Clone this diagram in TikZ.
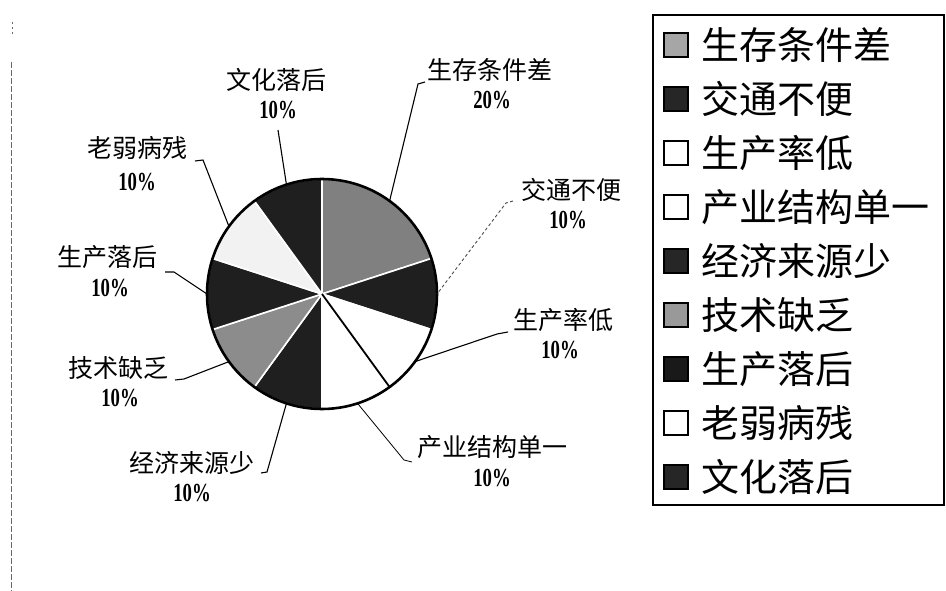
\documentclass[tikz,border=0pt]{standalone}
\usepackage{fontspec}
\usepackage{graphicx}
\newfontfamily\cjk{Noto Sans CJK SC}
\newfontfamily\pctfont{Liberation Serif}
\newcommand{\pcttext}[1]{\scalebox{0.72}[1]{#1}}
\usetikzlibrary{calc}
\definecolor{darkslice}{gray}{0.12}
\definecolor{grayslice}{gray}{0.5}
\definecolor{grayslicetwo}{gray}{0.55}
\definecolor{paleslice}{gray}{0.95}
\tikzset{
  lbl/.style={inner sep=0pt, font=\cjk\fontsize{25}{30}\selectfont},
  pct/.style={inner sep=0pt, font=\pctfont\bfseries\fontsize{26}{30}\selectfont},
  leg/.style={inner sep=0pt, anchor=west, font=\cjk\fontsize{38}{44}\selectfont},
  legbox/.style={draw=black, line width=1.6pt, minimum size=24pt, inner sep=0pt},
  leader/.style={draw=black, line width=1.1pt},
  faintleader/.style={draw=black!70, line width=0.9pt, dash pattern=on 3pt off 2.5pt},
  slicesep/.style={draw=white, line width=1.6pt}
}
\begin{document}
\begin{tikzpicture}[x=1pt,y=1pt]
\useasboundingbox (0,0) rectangle (946,-591);
\fill[white] (0,0) rectangle (946,-591);
% scan border line on the left
\draw[black!60, line width=0.8pt, dash pattern=on 6pt off 2pt] (11,-62) -- (11,-591);
\draw[black!60, line width=0.8pt, dash pattern=on 2pt off 3pt] (12,-22) -- (12,-34);
% pie
\coordinate (c) at (322,-294);
\foreach \a/\b/\col in {18/90/grayslice, -18/18/darkslice, -54/-18/white, -90/-54/white,
  -126/-90/darkslice, -162/-126/grayslicetwo, -198/-162/darkslice, -234/-198/paleslice, -270/-234/darkslice}
  \filldraw[fill=\col, slicesep] (c) -- ++(\a:115) arc[start angle=\a, end angle=\b, radius=115] -- cycle;
\draw[black, line width=1.8pt] (c) -- ++(-54:115);
\draw[black, line width=2.6pt] (c) circle[radius=115];
% pie edge points
\coordinate (e1) at ($(c)+(54:115)$);
\coordinate (e2) at ($(c)+(0:115)$);
\coordinate (e3) at ($(c)+(-36:115)$);
\coordinate (e4) at ($(c)+(-72:115)$);
\coordinate (e5) at ($(c)+(-108:115)$);
\coordinate (e6) at ($(c)+(-144:115)$);
\coordinate (e7) at ($(c)+(180:115)$);
\coordinate (e8) at ($(c)+(144:115)$);
\coordinate (e9) at ($(c)+(108:115)$);
% labels
\node[lbl] (n1) at (490,-70) {生存条件差};
\node[pct] (n1p) at (492,-100) {\pcttext{20\%}};
\node[lbl] (n2) at (571,-190) {交通不便};
\node[pct] (n2p) at (568,-220) {\pcttext{10\%}};
\node[lbl] (n3) at (563,-320) {生产率低};
\node[pct] (n3p) at (560,-350) {\pcttext{10\%}};
\node[lbl] (n4) at (492,-447) {产业结构单一};
\node[pct] (n4p) at (492,-478) {\pcttext{10\%}};
\node[lbl] (n5) at (192,-463) {经济来源少};
\node[pct] (n5p) at (192,-493) {\pcttext{10\%}};
\node[lbl] (n6) at (118,-368) {技术缺乏};
\node[pct] (n6p) at (120,-398) {\pcttext{10\%}};
\node[lbl] (n7) at (107,-257) {生产落后};
\node[pct] (n7p) at (110,-288) {\pcttext{10\%}};
\node[lbl] (n8) at (137,-148) {老弱病残};
\node[pct] (n8p) at (137,-182) {\pcttext{10\%}};
\node[lbl] (n9) at (276,-80) {文化落后};
\node[pct] (n9p) at (278,-110) {\pcttext{10\%}};
% leader start points
\coordinate (t1) at (425,-82);  \coordinate (k1) at (418,-84);
\coordinate (t2) at (513,-201); \coordinate (k2) at (506,-203);
\coordinate (t3) at (508,-332); \coordinate (k3) at (497,-334);
\coordinate (t4) at (412,-462); \coordinate (k4) at (404,-460);
\coordinate (t5) at (261,-473); \coordinate (k5) at (267,-472);
\coordinate (t6) at (175,-380); \coordinate (k6) at (184,-379);
\coordinate (t7) at (165,-272); \coordinate (k7) at (174,-272);
\coordinate (t8) at (195,-161); \coordinate (k8) at (203,-160);
\coordinate (t9) at (278,-130);
\draw[leader] (t1) -- (k1) -- (e1);
\draw[faintleader] (t2) -- (k2) -- (e2);
\draw[leader] (t3) -- (k3) -- (e3);
\draw[leader, line width=0.8pt] (t4) -- (k4) -- (e4);
\draw[leader] (t5) -- (k5) -- (e5);
\draw[leader] (t6) -- (k6) -- (e6);
\draw[leader] (t7) -- (k7) -- (e7);
\draw[leader] (t8) -- (k8) -- (e8);
\draw[leader] (t9) -- (e9);
% legend
\draw[black, line width=1.6pt] (653,-15) rectangle (944,-505);
\foreach \i/\txt/\col in {0/生存条件差/black!35, 1/交通不便/black!85, 2/生产率低/white, 3/产业结构单一/white,
  4/经济来源少/black!85, 5/技术缺乏/black!40, 6/生产落后/black!90, 7/老弱病残/white, 8/文化落后/black!85}{
  \node[legbox, fill=\col] (s\i) at (676,{-45-54*\i}) {};
  \node[leg] (g\i) at (701,{-45-54*\i}) {\txt};
}
\end{tikzpicture}
\end{document}
